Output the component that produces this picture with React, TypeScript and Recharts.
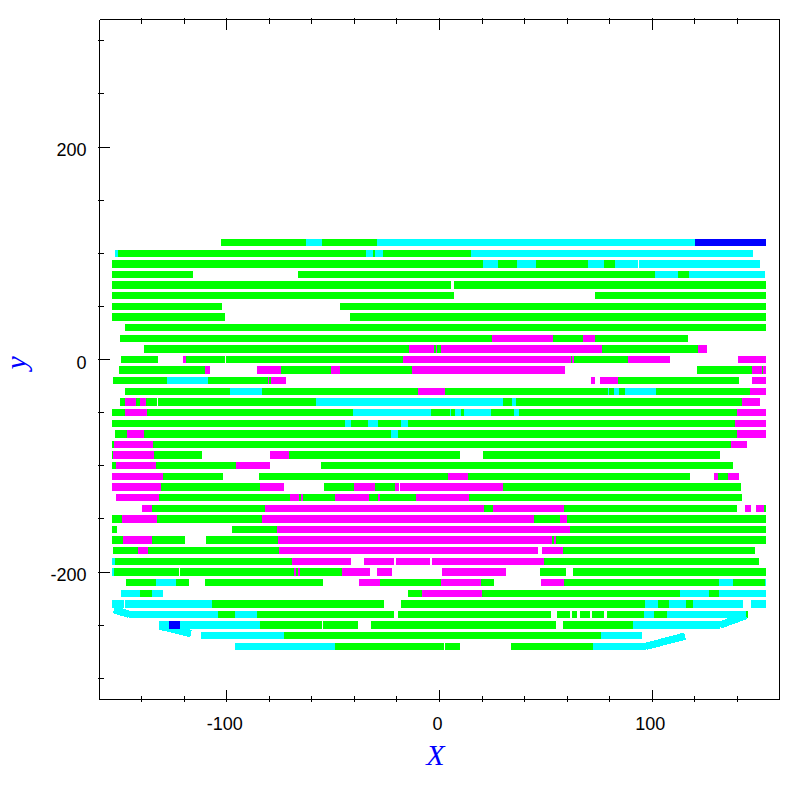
import { Label, Line, LineChart, XAxis, YAxis } from 'recharts'

// each strip is [y, xStart, xEnd], rows sit every 10 units of y
type Strip = [number, number, number]

const greenStrips: Strip[] = [
  [110, -102.7, -62.7], [110, -55.4, -29.4],
  [100, -151.1, -34.5], [100, -31.2, -30.3], [100, -26.5, 14.8],
  [90, -153.9, 20.4], [90, 27.5, 36.4], [90, 45.4, 69.8], [90, 77.3, 82.5],
  [80, -153.9, -115.8], [80, -66.5, 101.3], [80, 112.1, 117.2],
  [70, -153.9, 5.4], [70, 6.8, 153.4],
  [60, -153.9, 6.8], [60, 73.1, 153.4],
  [50, -153.9, -102.2], [50, -46.7, 153.4],
  [40, -153.9, -100.8], [40, -42.1, 153.4],
  [30, -147.8, 153.4],
  [20, -150.1, 24.7], [20, 53.3, 67.4], [20, 73.1, 116.8],
  [10, -138.9, -14.3], [10, -2.6, -1.6], [10, -1.2, 0.7], [10, 76.4, 121.5],
  [0, -149.7, -132.3], [0, -119.1, -100.8], [0, -100.3, -17.2], [0, 61.8, 62.3], [0, 63.2, 88.6],
  [-10, -150.6, -110.2], [-10, -74.5, -51], [-10, -46.8, -12.9], [-10, 121, 146.9], [-10, 151.6, 152.1],
  [-20, -153.4, -128.1], [-20, -108.8, -80.6], [-20, -80.1, -79.2], [-20, 83.9, 140.7],
  [-30, -147.8, -98.4], [-30, -83.4, -10.1], [-30, 2.6, 79.2], [-30, 79.7, 82], [-30, 84.4, 87.2], [-30, 101.7, 145.9],
  [-40, -150.1, -147.8], [-40, -142.6, -140.7], [-40, -137.9, -132.8], [-40, -132.3, -58], [-40, 29.8, 34.1], [-40, 36, 142.2],
  [-50, -153.9, -147.8], [-50, -137.4, -40.6], [-50, -4, 4.9], [-50, 5.4, 7.3], [-50, 10.1, 11.5], [-50, 24.2, 35], [-50, 37.4, 139.8],
  [-60, -153.9, -44.4], [-60, -41.6, -33.6], [-60, -28.9, -18.1], [-60, -14.8, 138.9],
  [-70, -152.5, -146.9], [-70, -138.9, -22.8], [-70, -19.5, 139.8],
  [-80, -153.9, -153], [-80, -134.6, 137],
  [-90, -153.9, -153.4], [-90, -134.2, -111.6], [-90, -70.7, 9.6], [-90, 20.4, 131.8],
  [-100, -153.9, -152], [-100, -133.2, -95.6], [-100, -55.7, 137.9],
  [-110, -129.9, -101.7], [-110, -84.8, 4], [-110, 13.4, 117.7], [-110, 130.9, 135.6],
  [-120, -130.9, -84.4], [-120, -54.3, -40.2], [-120, -30.3, -20.9], [-120, 29.8, 141.7],
  [-130, -131.8, -70.3], [-130, -66, -65], [-130, -64.1, -49.1], [-130, -33.1, -28.9], [-130, -28, -11], [-130, 13.9, 142.2],
  [-140, -135.1, -82], [-140, 20.9, 25.1], [-140, 58.5, 139.8], [-140, 152.5, 153.4],
  [-150, -153.9, -149.2], [-150, -132.8, -83.4], [-150, 44.4, 56.6], [-150, 59.9, 153.4],
  [-160, -153.9, -151.6], [-160, -97.5, -76.4], [-160, 61.3, 153.4],
  [-170, -153.9, -148.7], [-170, -135.1, -119.6], [-170, -109.7, -75.9], [-170, 52.9, 53.8], [-170, 54.8, 153.4],
  [-180, -153.4, -141.7], [-180, -137, -75.4], [-180, 58, 148.3],
  [-190, -152.5, -69.3], [-190, 49.1, 150.2],
  [-200, -153, -122.4], [-200, -122, -68.4], [-200, -67.4, -66.5], [-200, -65.6, -45.8], [-200, 47.2, 59.4], [-200, 62.7, 153.4],
  [-210, -147.3, -133.2], [-210, -123.8, -117.7], [-210, -110.2, -54.7], [-210, -28, 0.7], [-210, 19.5, 25.6], [-210, 58.5, 131.4], [-210, 137.9, 153],
  [-220, -140.7, -135.1], [-220, -14.8, -8.2], [-220, 20, 113], [-220, 126.6, 131.4],
  [-230, -106.9, -26.1], [-230, -18.1, 96.6], [-230, 102.7, 107.9], [-230, 115.8, 119.1],
  [-240, -104.1, -96.1], [-240, -85.8, -21.4], [-240, -19.5, 52.4], [-240, 55.2, 61.3], [-240, 62.3, 64.6], [-240, 66, 70.7],
  [-240, 71.7, 77.3], [-240, 78.7, 96.1], [-240, 100.8, 106.9], [-240, 144, 145],
  [-250, -84.4, -55.2], [-250, -54.7, -38.3], [-250, -32.2, 54.7], [-250, 58, 91],
  [-260, -73.1, 75.9],
  [-270, -49.1, 2.1], [-270, 2.6, 9.6], [-270, 33.6, 72.1]
]

const magentaStrips: Strip[] = [
  [20, 24.7, 53.3], [20, 67.4, 73.1],
  [10, -14.3, -2.6], [10, -1.6, -1.2], [10, 0.7, 76.4], [10, 121.5, 125.7],
  [0, -120.5, -119.1], [0, -17.2, 61.8], [0, 62.3, 63.2], [0, 88.6, 108.3], [0, 140.3, 153.4],
  [-10, -110.2, -107.8], [-10, -85.8, -74.5], [-10, -51, -46.8], [-10, -12.9, 59], [-10, 146.9, 151.6], [-10, 152.1, 153.4],
  [-20, -80.6, -80.1], [-20, -79.2, -72.1], [-20, 71.2, 73.1], [-20, 75.4, 83.9], [-20, 146.9, 153.4],
  [-30, -10.1, 2.6], [-30, 145.9, 153.4],
  [-40, -147.8, -142.6], [-40, -140.7, -137.9], [-40, 142.2, 150.6],
  [-50, -147.8, -137.4], [-50, 139.8, 153.4],
  [-60, 138.9, 153.4],
  [-70, -146.9, -138.9], [-70, 139.8, 153.4],
  [-80, -153, -134.6], [-80, 137, 144.5],
  [-90, -153.4, -134.2], [-90, -79.7, -70.7],
  [-100, -152, -133.2], [-100, -95.6, -79.7],
  [-110, -153.9, -129.9], [-110, 4, 13.4], [-110, 129, 130.9], [-110, 135.6, 140.7],
  [-120, -153.9, -130.9], [-120, -84.4, -73.1], [-120, -40.2, -30.3], [-120, -20.9, -19], [-120, -18.6, 29.8],
  [-130, -152, -131.8], [-130, -70.3, -66], [-130, -65, -64.1], [-130, -49.1, -33.1], [-130, -28.9, -28], [-130, -11, 13.9],
  [-140, -139.8, -135.1], [-140, -82, 20.9], [-140, 25.1, 58.5], [-140, 143.6, 146.4], [-140, 148.7, 152.5],
  [-150, -149.2, -132.8], [-150, -83.4, 44.4], [-150, 56.6, 59.9],
  [-160, -76.4, 61.3],
  [-170, -148.7, -135.1], [-170, -75.9, 52.9], [-170, 53.8, 54.6],
  [-180, -141.7, -137], [-180, -75.4, 46.3], [-180, 48.2, 58],
  [-190, -69.3, -41.6], [-190, -35.5, -21.4], [-190, -20.4, -4.5], [-190, -3.5, 49.1],
  [-200, -68.4, -67.4], [-200, -66.5, -65.6], [-200, -45.8, -32.7], [-200, -29.4, -22.3], [-200, 1.2, 31.3],
  [-210, -37.8, -28], [-210, 0.7, 19.5], [-210, 47.7, 58.5],
  [-220, -8.2, 20]
]

const cyanStrips: Strip[] = [
  [110, -62.7, -55.4], [110, -29.4, 120.1],
  [100, -152.5, -151.1], [100, -34.5, -31.2], [100, -30.3, -26.5], [100, 14.8, 147.3],
  [90, 20.4, 27.5], [90, 36.4, 45.4], [90, 69.8, 77.3], [90, 82.5, 93.1], [90, 93.8, 150.6],
  [80, 101.3, 112.1], [80, 117.2, 153],
  [-20, -128.1, -108.8],
  [-30, -98.4, -83.4], [-30, 79.2, 79.7], [-30, 82, 84.4], [-30, 87.2, 101.7],
  [-40, -58, 29.8], [-40, 34.1, 36],
  [-50, -40.6, -4], [-50, 4.9, 5.4], [-50, 7.3, 10.1], [-50, 11.5, 24.2], [-50, 35, 37.4],
  [-60, -44.4, -41.6], [-60, -33.6, -28.9], [-60, -18.1, -14.8],
  [-70, -22.8, -19.5],
  [-190, -153.9, -152.5],
  [-200, -153.9, -153],
  [-210, -133.2, -123.8], [-210, 131.4, 137.9], [-210, 153, 153.4],
  [-220, -149.7, -140.7], [-220, -135.1, -129.9], [-220, 113, 126.6], [-220, 131.4, 153.4],
  [-230, -153.9, -148.3], [-230, -147.8, -106.9], [-230, 96.6, 102.7], [-230, 107.9, 115.8], [-230, 119.1, 142.6], [-230, 146.4, 153.4],
  [-240, -145.8, -104.1], [-240, -96.1, -85.8], [-240, 96.1, 100.8], [-240, 106.9, 144],
  [-250, -131.8, -127.1], [-250, -122, -84.4], [-250, 91, 131.8],
  [-260, -112.1, -73.1], [-260, 75.9, 95.2],
  [-270, -96.1, -49.1], [-270, 72.1, 97]
]

const blueStrips: Strip[] = [
  [110, 120.1, 153.4],
  [-250, -127.1, -122]
]

// the slanted ends at the bottom corners, [xStart, yStart, xEnd, yEnd]
const cyanSlants = [
  [-153, -235.4, -145.8, -240],
  [131.8, -250, 144, -241],
  [-131.3, -251, -116.8, -258],
  [97, -270, 115.4, -260.3]
]

const xDomain = [-159.8, 159.8]
const yDomain = [-320, 320]
const xTicks = [-140, -120, -100, -80, -60, -40, -20, 0, 20, 40, 60, 80, 100, 120, 140]
const xMajor = [-100, 0, 100]
const yTicks = [-300, -250, -200, -150, -100, -50, 0, 50, 100, 150, 200, 250, 300]
const yMajor = [-200, 0, 200]

// a null y breaks the line so one series can hold every strip of a colour
const stripPoints = (strips: Strip[]) =>
  strips.flatMap(([y, x0, x1]) => [{ x: x0, y }, { x: x1, y }, { x: x1, y: null }])

const slantPoints = cyanSlants.flatMap(([x0, y0, x1, y1]) => [{ x: x0, y: y0 }, { x: x1, y: y1 }, { x: x1, y: null }])

const series = [
  { name: 'green', color: '#00FF00', data: stripPoints(greenStrips) },
  { name: 'magenta', color: '#FF00FF', data: stripPoints(magentaStrips) },
  { name: 'cyan', color: '#00FFFF', data: [...stripPoints(cyanStrips), ...slantPoints] },
  { name: 'blue', color: '#0000FF', data: stripPoints(blueStrips) }
]

const labelFont = { fontFamily: '"Liberation Sans", sans-serif', fontSize: 18, fill: '#000' }
const titleFont = { fontFamily: '"Liberation Serif", serif', fontStyle: 'italic', fontSize: 30, fill: '#0000FF' }
const frameLine = { stroke: '#000', strokeWidth: 1, shapeRendering: 'crispEdges' }

// ticks point into the frame, so every side draws its own
const bottomTick = ({ x, y, payload }: any) => {
  const major = xMajor.includes(payload.value)
  return (
    <g>
      <line x1={x} x2={x} y1={y} y2={y - (major ? 12 : 6)} {...frameLine} />
      {major && <text x={x - 2} y={y + 28.5} textAnchor="middle" {...labelFont}>{payload.value}</text>}
    </g>
  )
}

const topTick = ({ x, y, payload }: any) => (
  <line x1={x} x2={x} y1={y} y2={y + (xMajor.includes(payload.value) ? 12 : 6)} {...frameLine} />
)

const leftTick = ({ x, y, payload }: any) => {
  const major = yMajor.includes(payload.value)
  return (
    <g>
      <line x1={x} x2={x + (major ? 12 : 6)} y1={y} y2={y} {...frameLine} />
      {major && <text x={x - 11} y={y + 9} textAnchor="end" {...labelFont}>{payload.value}</text>}
    </g>
  )
}

const rightTick = ({ x, y, payload }: any) => (
  <line x1={x} x2={x - (yMajor.includes(payload.value) ? 12 : 6)} y1={y} y2={y} {...frameLine} />
)

export default function App() {
  return (
    <div style={{ position: 'absolute', left: 0, top: 0, width: 797, height: 797, background: '#fff' }}>
      <LineChart width={797} height={797} margin={{ top: 0, right: 0, bottom: 0, left: 0 }}>
        <XAxis
          dataKey="x"
          type="number"
          domain={xDomain}
          allowDataOverflow
          ticks={xTicks}
          interval={0}
          height={97.5}
          axisLine={frameLine}
          tickLine={false}
          tickSize={0}
          tick={bottomTick}
        >
          <Label value="X" position="insideBottom" offset={32} dx={-4} {...titleFont} />
        </XAxis>
        <XAxis
          xAxisId="top"
          orientation="top"
          dataKey="x"
          type="number"
          domain={xDomain}
          allowDataOverflow
          ticks={xTicks}
          interval={0}
          height={19.5}
          axisLine={frameLine}
          tickLine={false}
          tickSize={0}
          tick={topTick}
        />
        <YAxis
          type="number"
          domain={yDomain}
          ticks={yTicks}
          interval={0}
          width={99.5}
          axisLine={frameLine}
          tickLine={false}
          tickSize={0}
          tick={leftTick}
        >
          <Label value="y" angle={-90} position="insideLeft" offset={15} dy={10} {...titleFont} />
        </YAxis>
        <YAxis
          yAxisId="right"
          orientation="right"
          type="number"
          domain={yDomain}
          ticks={yTicks}
          interval={0}
          width={17.5}
          axisLine={frameLine}
          tickLine={false}
          tickSize={0}
          tick={rightTick}
        />
        {series.map((s) => (
          <Line
            key={s.name}
            data={s.data}
            dataKey="y"
            name={s.name}
            type="linear"
            stroke={s.color}
            strokeWidth={7.3}
            strokeLinecap="butt"
            dot={false}
            activeDot={false}
            connectNulls={false}
            isAnimationActive={false}
            shapeRendering="crispEdges"
          />
        ))}
      </LineChart>
    </div>
  )
}
